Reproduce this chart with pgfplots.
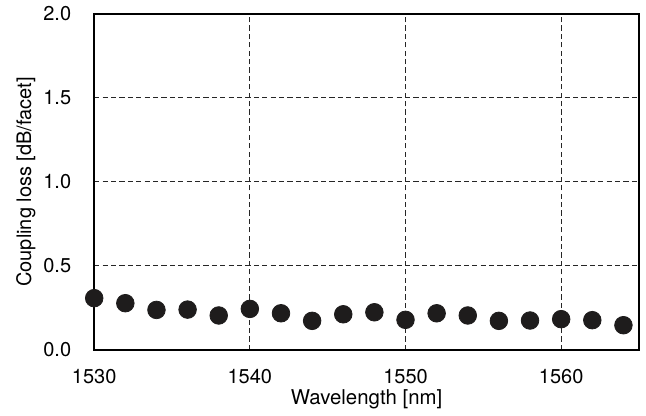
\documentclass[border=0pt]{standalone}
\usepackage{pgfplots}
\pgfplotsset{compat=1.18}
\usepackage{fontspec}
\setmainfont{TeX Gyre Heros}
\definecolor{dots}{RGB}{30,28,28}
\begin{document}
\begin{tikzpicture}
\begin{axis}[
  name=main,
  scale only axis,
  width=272.4pt, height=168pt,
  xmin=1530, xmax=1565, ymin=0, ymax=2,
  xtick={1530,1540,1550,1560},
  ytick={0,0.5,1,1.5,2},
  yticklabel style={/pgf/number format/fixed, /pgf/number format/fixed zerofill, /pgf/number format/precision=1},
  xticklabel style={/pgf/number format/1000 sep={}},
  /pgf/number format/assume math mode=true,
  major tick length=0pt,
  axis line style={line width=0.8pt},
  grid=major,
  major grid style={black!85, line width=0.5pt, dash pattern=on 2.6pt off 1.6pt},
  tick label style={font=\fontsize{10}{12}\selectfont},
  xticklabel style={yshift=-6pt},
  yticklabel style={xshift=-8pt},
  xlabel={Wavelength [nm]},
  ylabel={Coupling loss [dB/facet]},
  xlabel style={font=\fontsize{10.2}{12}\selectfont, at={(axis description cs:0.5,0)}, anchor=base, yshift=-27.4pt},
  ylabel style={font=\fontsize{10}{12}\selectfont, yshift=-3pt},
  clip=false,
]
\addplot[only marks, mark=*, mark size=4.4pt, mark options={fill=dots, draw=dots}] coordinates {
(1530,0.308) (1532,0.278) (1534,0.238) (1536,0.240) (1538,0.205)
(1540,0.244) (1542,0.218) (1544,0.173) (1546,0.212) (1548,0.224)
(1550,0.179) (1552,0.218) (1554,0.205) (1556,0.173) (1558,0.175)
(1560,0.183) (1562,0.177) (1564,0.147)
};
\end{axis}
\path (main.north east) ++(3.5pt,0pt) (main.south west) ++(-47.1pt,-31.65pt);
\end{tikzpicture}
\end{document}
